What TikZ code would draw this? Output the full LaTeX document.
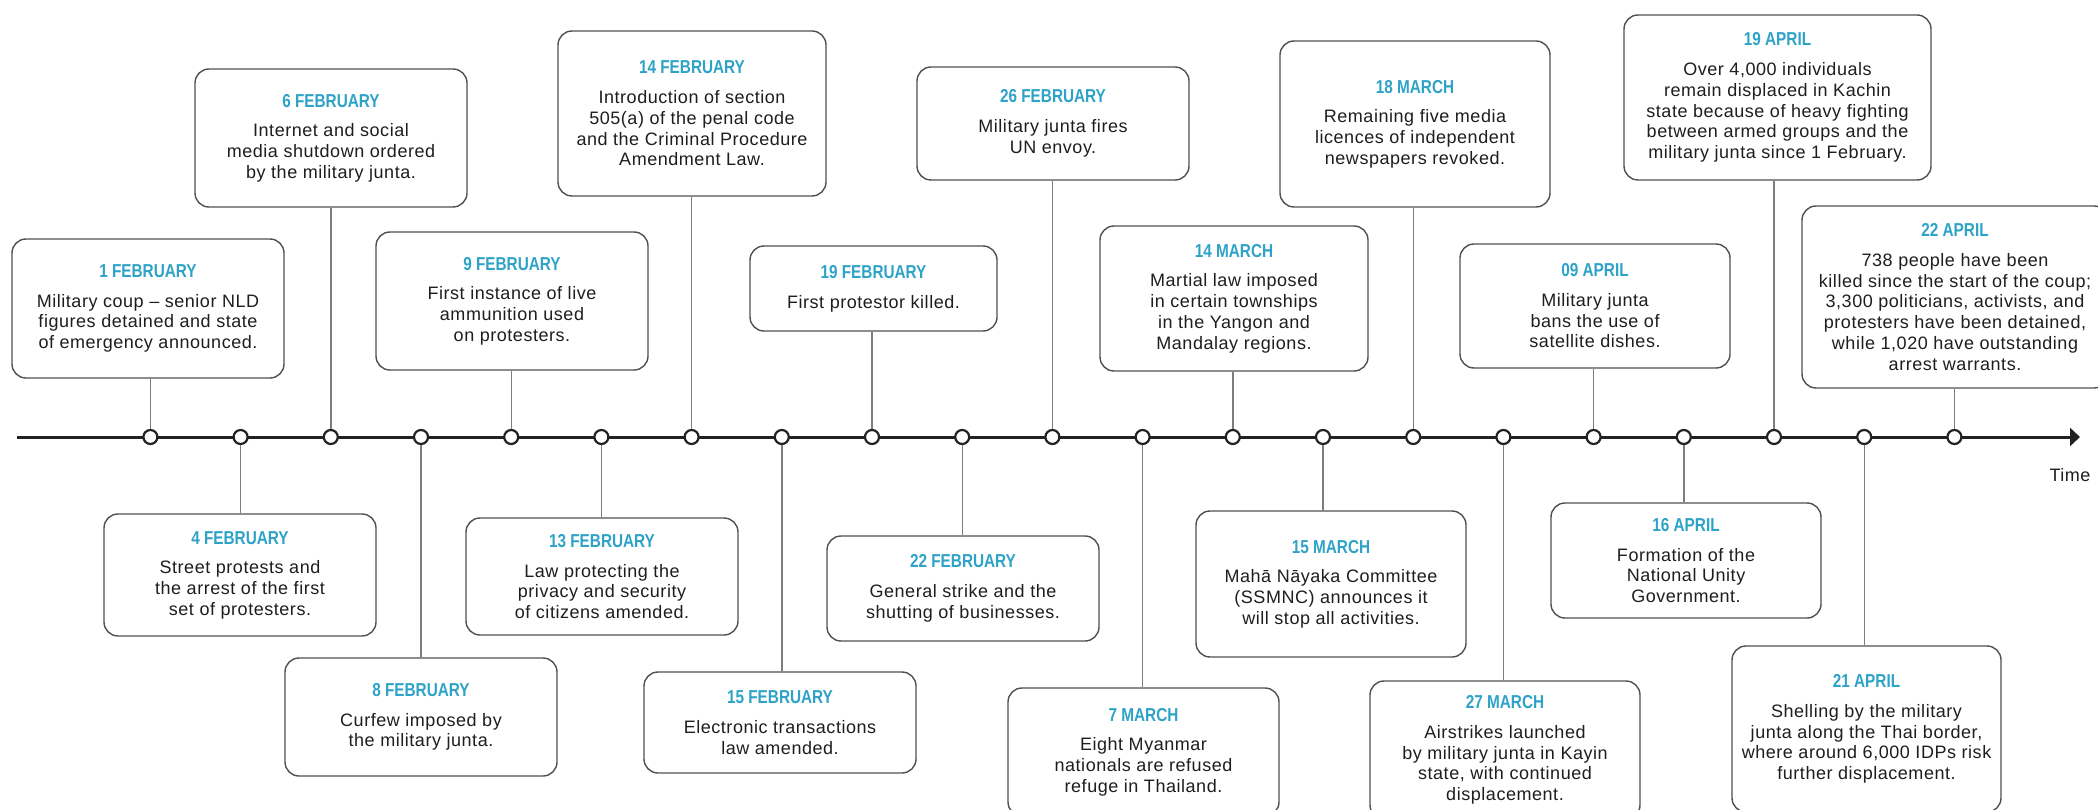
\documentclass[tikz,border=0pt]{standalone}
\usepackage{fontspec}
\setmainfont{Liberation Sans}
\newfontfamily\bodyfont[LetterSpace=3]{Liberation Sans}
\newfontfamily\datefont[FakeStretch=0.82]{Liberation Sans}
\usetikzlibrary{arrows.meta}
\definecolor{dateblue}{RGB}{46,163,199}
\definecolor{boxline}{RGB}{80,80,80}
\definecolor{connc}{RGB}{125,125,125}
\definecolor{tlc}{RGB}{34,34,34}
\definecolor{textc}{RGB}{30,30,30}
\tikzset{
  evbox/.style={draw=boxline, line width=1.4pt, rounded corners=14pt, fill=white,
    align=center, inner sep=0pt, text=textc,
    font={\bodyfont\fontsize{18}{20.7}\selectfont}},
  dot/.style={circle, draw=tlc, line width=2.2pt, fill=white, minimum size=14pt, inner sep=0pt},
  conn/.style={draw=connc, line width=1.4pt},
  tline/.style={draw=tlc, line width=3pt},
}
\newcommand\ev[7]{%
  \node[evbox, minimum width=#5pt, minimum height={(#4-#3)*1pt}] (#1) at (#2,{(#3+#4)/2})
  {{\datefont\bfseries\color{dateblue}\fontsize{18.7}{20.7}\selectfont #6}\\[9pt]#7};}
\begin{document}
\begin{tikzpicture}[x=1pt,y=-1pt]
\useasboundingbox[fill=white] (0,0) rectangle (2098,810);
% boxes
\ev{e0}{148}{239}{378}{272}{1 FEBRUARY}{Military coup – senior NLD\\figures detained and state\\of emergency announced.}
\ev{e1}{240}{514}{636}{272}{4 FEBRUARY}{Street protests and\\the arrest of the first\\set of protesters.}
\ev{e2}{331}{69}{207}{272}{6 FEBRUARY}{Internet and social\\media shutdown ordered\\by the military junta.}
\ev{e3}{421}{658}{776}{272}{8 FEBRUARY}{Curfew imposed by\\the military junta.}
\ev{e4}{512}{232}{370}{272}{9 FEBRUARY}{First instance of live\\ammunition used\\on protesters.}
\ev{e5}{602}{518}{635}{272}{13 FEBRUARY}{Law protecting the\\privacy and security\\of citizens amended.}
\ev{e6}{692}{31}{196}{268}{14 FEBRUARY}{Introduction of section\\505(a) of the penal code\\and the Criminal Procedure\\Amendment Law.}
\ev{e7}{780}{672}{773}{272}{15 FEBRUARY}{Electronic transactions\\law amended.}
\ev{e8}{873.5}{246}{331}{247}{19 FEBRUARY}{First protestor killed.}
\ev{e9}{963}{536}{641}{272}{22 FEBRUARY}{General strike and the\\shutting of businesses.}
\ev{e10}{1053}{67}{180}{272}{26 FEBRUARY}{Military junta fires\\UN envoy.}
\ev{e11}{1143.5}{688}{816}{271}{7 MARCH}{Eight Myanmar\\nationals are refused\\refuge in Thailand.}
\ev{e12}{1234}{226}{371}{268}{14 MARCH}{Martial law imposed\\in certain townships\\in the Yangon and\\Mandalay regions.}
\ev{e13}{1331}{511}{657}{270}{15 MARCH}{Mahā Nāyaka Committee\\(SSMNC) announces it\\will stop all activities.}
\ev{e14}{1415}{41}{207}{270}{18 MARCH}{Remaining five media\\licences of independent\\newspapers revoked.}
\ev{e15}{1505}{681}{819}{270}{27 MARCH}{Airstrikes launched\\by military junta in Kayin\\state, with continued\\displacement.}
\ev{e16}{1595}{244}{368}{270}{09 APRIL}{Military junta\\bans the use of\\satellite dishes.}
\ev{e17}{1686}{503}{618}{270}{16 APRIL}{Formation of the\\National Unity\\Government.}
\ev{e18}{1777.5}{15}{180}{307}{19 APRIL}{Over 4,000 individuals\\remain displaced in Kachin\\state because of heavy fighting\\between armed groups and the\\military junta since 1 February.}
\ev{e19}{1866.5}{646}{812}{269}{21 APRIL}{Shelling by the military\\junta along the Thai border,\\where around 6,000 IDPs risk\\further displacement.}
\ev{e20}{1955}{206}{388}{306}{22 APRIL}{738 people have been\\killed since the start of the coup;\\3,300 politicians, activists, and\\protesters have been detained,\\while 1,020 have outstanding\\arrest warrants.}
% timeline
\coordinate (ts) at (17,437);
\coordinate (te) at (2080,437);
\draw[tline, -{Triangle[length=10pt,width=18pt]}] (ts) -- (te);
\foreach \i in {0,...,20} \node[dot] (c\i) at ({150.4+90.2*\i},437) {};
% connectors
\foreach \i in {0,2,4,6,8,10,12,14,16,18,20} \draw[conn] (c\i) -- (c\i |- e\i.south);
\foreach \i in {1,3,5,7,9,11,13,15,17,19} \draw[conn] (c\i) -- (c\i |- e\i.north);
\node[font={\bodyfont\fontsize{18}{20.7}\selectfont}, text=textc] (time) at (2070,475) {Time};
\end{tikzpicture}
\end{document}
